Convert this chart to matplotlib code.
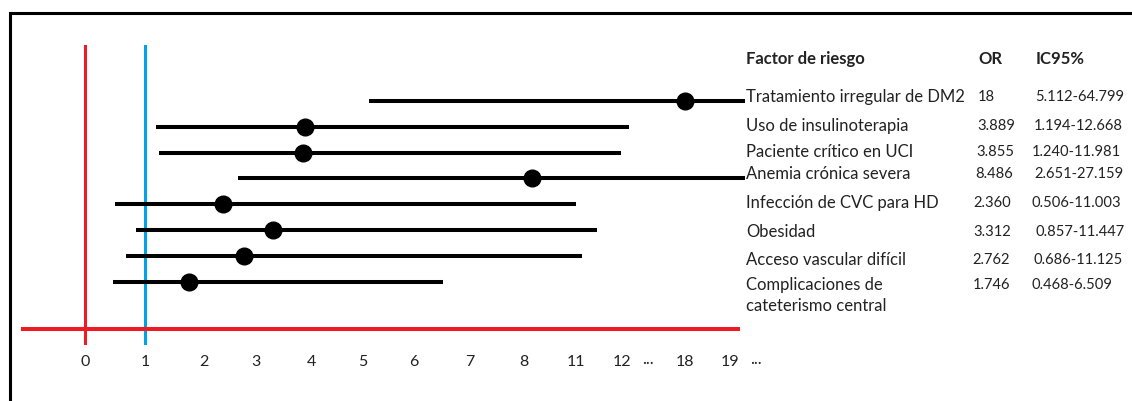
import numpy as np
import matplotlib.pyplot as plt
from matplotlib.lines import Line2D

plt.rcParams["font.family"] = ["Lato", "DejaVu Sans"]

# risk factors, odds ratios and 95% CI
factors = [
    "Tratamiento irregular de DM2",
    "Uso de insulinoterapia",
    "Paciente crítico en UCI",
    "Anemia crónica severa",
    "Infección de CVC para HD",
    "Obesidad",
    "Acceso vascular difícil",
    "Complicaciones de\ncateterismo central",
]
odds_ratio = [18, 3.889, 3.855, 8.486, 2.360, 3.312, 2.762, 1.746]
ci_low = [5.112, 1.194, 1.240, 2.651, 0.506, 0.857, 0.686, 0.468]
ci_high = [64.799, 12.668, 11.981, 27.159, 11.003, 11.447, 11.125, 6.509]

# broken axis: tick values and where they sit (pixels)
tick_values = [0, 1, 2, 3, 4, 5, 6, 7, 8, 11, 12, 18, 19]
tick_pos = [85, 145, 204, 256, 311, 363, 414, 470, 524, 576, 622, 685, 730]

W, H = 1132, 401

# piecewise linear scale with linear extension at both ends
_v = np.array([-100.0] + tick_values + [1000.0])
_p = np.array([85 - 100 * 60.0] + tick_pos + [730 + 981 * 45.0])


def forward(v):
    return np.interp(v, _v, _p)


def inverse(p):
    return np.interp(p, _p, _v)


fig = plt.figure(figsize=(W / 100, H / 100), dpi=100)

ax_left, ax_right, ax_top, ax_bot = 20, 745, 45, 345
ax = fig.add_axes([ax_left / W, 1 - ax_bot / H,
                   (ax_right - ax_left) / W, (ax_bot - ax_top) / H])
ax.set_xscale("function", functions=(forward, inverse))
ax.set_xlim(inverse(ax_left), inverse(ax_right))

rows = np.arange(len(factors))
row_px = 25.9
ax.set_ylim(rows[0] + (ax_bot - 100.7) / row_px, rows[0] - (100.7 - ax_top) / row_px)

for s in ax.spines.values():
    s.set_visible(False)
ax.set_yticks([])

# reference lines
ax.axvline(0, color="#ED1C24", lw=2.2, zorder=1)
ax.axvline(1, color="#00A2E8", lw=2.2, zorder=1)
ax.axhline((329 - 100.7) / row_px, xmin=(23 - ax_left) / (ax_right - ax_left),
           xmax=(738 - ax_left) / (ax_right - ax_left), color="#ED1C24", lw=2.9, zorder=3)

# confidence intervals and point estimates
ax.hlines(rows, ci_low, ci_high, color="black", lw=2.9, zorder=2)
ax.plot(odds_ratio, rows, "o", color="black", ms=12, zorder=4)

ax.set_xticks(tick_values)
ax.set_xticklabels([str(t) for t in tick_values], fontsize=11.5, color="#222222")
ax.tick_params(axis="x", length=0, pad=7)
for t in [12, 19]:
    ax.annotate("...", xy=(t, 0), xycoords=ax.get_xaxis_transform(),
                xytext=(26, -14), textcoords="offset pixels",
                ha="center", va="center", fontsize=12, color="#222222")

# table on the right
def px(x, y):
    return x / W, 1 - y / H


def fmt(v):
    return f"{v:.3f}" if v % 1 else f"{v:g}"


txt = dict(fontsize=12, color="#222222", va="center", ha="left")
num = dict(txt, fontsize=10.6)
fig.text(*px(746, 59), "Factor de riesgo", fontweight="bold", **txt)
fig.text(*px(978, 59), "OR", fontweight="bold", **txt)
fig.text(*px(1036, 59), "IC95%", fontweight="bold", **txt)

label_y = [97, 126, 152, 174, 203, 232, 260, 285]
or_x = [978, 977, 976, 975, 973, 973, 972, 973]
ci_x = [1035, 1034, 1032, 1034, 1031, 1035, 1033, 1031]
for i, name in enumerate(factors):
    y = label_y[i]
    if "\n" in name:
        first, second = name.split("\n")
        fig.text(*px(746, y), first, **txt)
        fig.text(*px(746, y + 21), second, **txt)
    else:
        fig.text(*px(746, y), name, **txt)
    fig.text(*px(or_x[i], y), fmt(odds_ratio[i]), **num)
    fig.text(*px(ci_x[i], y), f"{ci_low[i]:.3f}-{ci_high[i]:.3f}", **num)

# outer frame (top and left edges)
fig.add_artist(Line2D([10 / W, 10 / W, 1], [0, 1 - 12.5 / H, 1 - 12.5 / H],
                      transform=fig.transFigure, color="black", lw=2.2,
                      solid_joinstyle="miter"))

fig.savefig("out.png", dpi=100)
